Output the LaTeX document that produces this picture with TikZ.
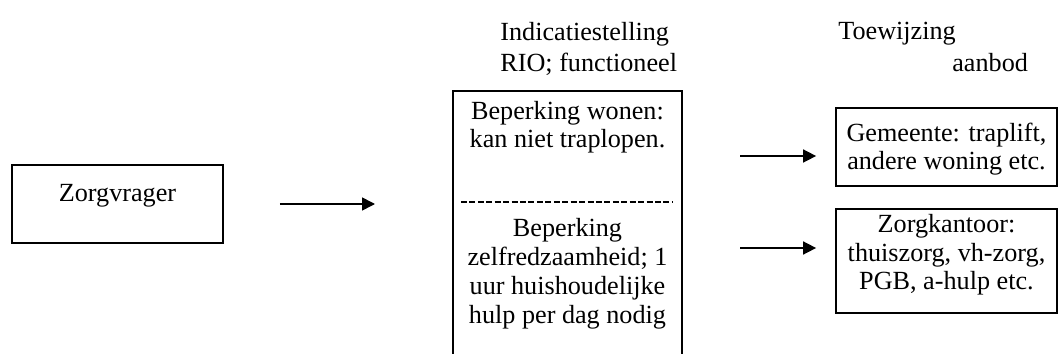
\documentclass[tikz,border=0pt]{standalone}
\usepackage{fontspec}
\setmainfont{Liberation Serif}
\usepackage{tikz}
\usetikzlibrary{arrows.meta, positioning}
\newcommand{\bodyfont}{\fontsize{14.9}{16.5}\selectfont}
\newcommand{\headfont}{\fontsize{14.9}{18}\selectfont}
\tikzset{
  box/.style={rectangle, draw=black, line width=1pt, align=center,
              inner sep=0pt, font=\bodyfont},
  bodytext/.style={align=center, inner sep=0pt, font=\bodyfont},
  headtext/.style={align=left, inner sep=0pt, font=\headfont},
  arrow/.style={-{Triangle[length=0.26cm, width=0.26cm]}, line width=0.9pt},
}

\begin{document}
\begin{tikzpicture}
  \useasboundingbox (0,0) rectangle (21.16,-7.08);
  % left: the client
  \node[box, minimum width=4.22cm, minimum height=1.56cm,
        text height=0.74cm, text depth=0.82cm] (zv) at (2.35,-4.08) {Zorgvrager};
  % middle: open box of the assessment
  \coordinate (mtl) at (9.06,-1.82);
  \coordinate (mtr) at (13.64,-1.82);
  \draw[line width=1pt] (mtl |- 0,-7.3) -- (mtl) -- (mtr) -- (mtr |- 0,-7.3);
  \node[headtext, anchor=base west] (ind) at (10.0,-1.44) {Indicatiestelling\\RIO; functioneel};
  \node[bodytext, anchor=base] (wonen) at (11.35,-2.96) {Beperking wonen:\\kan niet traplopen.};
  \draw[dash pattern=on 3.4pt off 1.4pt, line width=0.7pt] (9.22,-4.04) -- (13.46,-4.04);
  \node[bodytext, anchor=base] (zelf) at (11.35,-6.46)
       {Beperking\\zelfredzaamheid; 1\\uur huishoudelijke\\hulp per dag nodig};
  % right: the allocation
  \node[headtext, anchor=base west] (toew) at (16.76,-0.8) {Toewijzing};
  \node[headtext, anchor=base west] (aanb) at (19.04,-1.44) {aanbod};
  \node[box, minimum width=4.42cm, minimum height=1.56cm,
        text height=1.24cm, text depth=0.32cm] (gem) at (18.93,-2.94)
       {Gemeente: traplift,\\andere woning etc.};
  \node[box, minimum width=4.42cm, minimum height=2.08cm,
        text height=1.62cm, text depth=0.46cm] (zk) at (18.93,-5.22)
       {Zorgkantoor:\\thuiszorg, vh-zorg,\\PGB, a-hulp etc.};
  % arrows
  \draw[arrow, shorten <=1.12cm, shorten >=1.56cm] (zv.east) -- (zv.east -| mtl);
  \draw[arrow, shorten <=1.16cm, shorten >=0.38cm]
       ([yshift=-0.18cm]mtr |- gem.west) -- ([yshift=-0.18cm]gem.west);
  \draw[arrow, shorten <=1.16cm, shorten >=0.38cm]
       ([yshift=0.26cm]mtr |- zk.west) -- ([yshift=0.26cm]zk.west);
\end{tikzpicture}
\end{document}
